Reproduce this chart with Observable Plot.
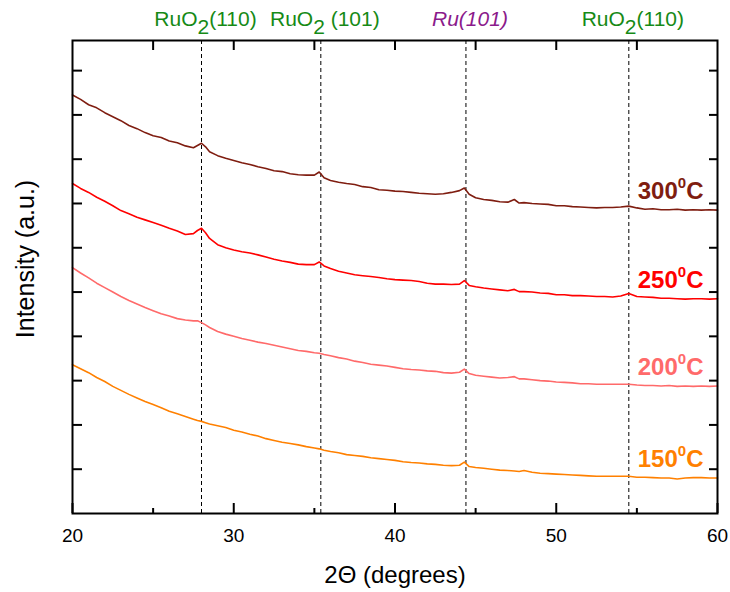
<!DOCTYPE html>
<html><head><meta charset="utf-8">
<script src="https://cdn.jsdelivr.net/npm/d3@7"></script>
<script src="https://cdn.jsdelivr.net/npm/@observablehq/plot@0.6"></script>
<style>html,body{margin:0;padding:0;background:#fff}#chart{width:730px;height:592px}</style>
</head><body><div id="chart"></div>
<script>
// 2Θ positions (degrees)
const twoTheta = [20,20.5,21,21.5,22,22.5,23,23.5,24,24.5,25,25.5,26,26.5,27,27.5,27.75,28,28.25,28.5,
  29,29.5,30,30.5,31,31.5,32,32.5,33,33.5,34,34.5,35,35.3,35.6,
  36,36.5,37,37.5,38,38.5,39,39.5,40,40.5,41,41.5,42,42.5,43,43.5,44,44.3,44.6,
  45,45.5,46,46.5,47,47.4,47.7,
  48,48.5,49,49.5,50,50.5,51,51.5,52,52.5,53,53.5,54,54.5,55,55.5,56,56.5,57,57.5,58,58.5,59,59.5,60];
// intensities (a.u., offset stacked)
const i300 = [945,935,923,916,905,896,887,876,869,860,853,849,841,837,830,826,831,836,828,817,
  808,802,797,792,788,783,779,774,772,767,765,764,764,771,758,
  752,748,745,743,738,736,731,730,728,727,725,723,722,721,722,725,729,735,721,
  713,709,707,704,703,709,701,
  702,700,699,698,695,695,693,692,691,690,691,691,692,694,690,687,688,686,686,687,685,686,685,686,685];
const i250 = [745,734,725,714,705,695,684,677,669,663,657,651,644,638,630,632,639,644,634,621,
  607,600,595,591,588,584,579,574,570,567,563,562,562,568,559,
  553,547,543,539,537,535,533,530,528,527,526,524,520,518,518,517,518,526,515,
  512,509,507,505,503,506,501,
  501,500,498,497,494,494,492,492,491,490,490,489,491,497,490,489,488,486,486,485,484,485,485,484,485];
const i200 = [555,543,532,520,510,500,490,481,473,465,458,451,446,440,437,435,435,431,426,420,
  411,405,400,395,391,387,384,380,376,372,368,366,363,362,359,
  356,352,349,344,341,337,335,333,330,327,325,324,322,321,318,317,319,326,316,
  312,310,308,306,307,309,304,
  304,302,300,299,297,296,295,293,293,292,292,292,292,292,290,289,289,288,289,287,288,287,288,287,288];
const i150 = [336,327,318,307,298,287,278,269,261,253,246,239,231,225,219,213,210,208,205,202,
  198,194,188,184,179,175,169,165,161,158,155,151,148,146,143,
  140,137,133,131,129,126,124,122,120,117,115,114,112,111,109,108,109,116,106,
  104,102,100,98,97,96,95,
  97,93,91,90,89,88,87,86,85,84,84,84,84,84,82,82,81,80,80,78,80,81,81,80,80];

const seriesValues = [i300, i250, i200, i150];
const seriesNames = ["300", "250", "200", "150"];
const seriesColors = ["#7f1d10", "#ff0000", "#ff6a6a", "#ff8000"];

const peakPositions = [28.0, 35.4, 44.4, 54.5];
const peakLabels = ["RuO2(110)", "RuO2 (101)", "Ru(101)", "RuO2(110)"];
const peakColors = ["#168a16", "#168a16", "#8b1a8b", "#168a16"];
const peakStyles = ["normal", "normal", "italic", "normal"];

const xTicksMajor = [20, 30, 40, 50, 60];
const xTicksMinor = [25, 35, 45, 55];
const xTicksTop = [25, 30, 35, 40, 45, 50, 55];
const yTicks = [100, 200, 300, 400, 500, 600, 700, 800, 900, 1000];
const yMax = 1068;

const rows = vals => twoTheta.map((x, i) => ({x, v: vals[i]}));
const last = twoTheta.length - 1;

const chart = Plot.plot({
  width: 730, height: 592,
  marginLeft: 72, marginRight: 13, marginTop: 40, marginBottom: 79,
  style: {fontFamily: "'Liberation Sans', Arial, sans-serif", fontSize: "18px", background: "#fff", color: "#000", overflow: "visible"},
  x: {domain: [20, 60]},
  y: {domain: [0, yMax]},
  marks: [
    Plot.ruleX(peakPositions, {x: d => d, stroke: "#000", strokeWidth: 1, strokeDasharray: "4,3"}),
    ...seriesValues.map((vals, k) => Plot.line(rows(vals), {x: "x", y: "v", stroke: seriesColors[k], strokeWidth: 1.6})),
    ...seriesValues.map((vals, k) => Plot.text([{x: twoTheta[last], v: vals[last], t: seriesNames[k]}], {
      x: "x", y: "v", text: "t", textAnchor: "end", lineAnchor: "bottom", dx: -14, dy: -11,
      fill: seriesColors[k], fontSize: 24, fontWeight: "bold"})),
    ...peakPositions.map((p, k) => Plot.text([p], {
      x: d => d, text: () => peakLabels[k], frameAnchor: "top", textAnchor: "middle", lineAnchor: "bottom", dy: -15, dx: 4,
      fill: peakColors[k], fontStyle: peakStyles[k], fontSize: 21})),
    Plot.frame({stroke: "#000", strokeWidth: 2}),
    Plot.axisX({anchor: "bottom", ticks: xTicksMajor, tickSize: -10, fill: "none", label: null, strokeWidth: 2}),
    Plot.axisX({anchor: "bottom", ticks: xTicksMinor, tickSize: -5, fill: "none", label: null, strokeWidth: 2}),
    Plot.axisX({anchor: "bottom", ticks: xTicksMajor, tickSize: 0, tickPadding: 15, fontSize: 19, label: null}),
    Plot.axisX({anchor: "top", ticks: xTicksTop, tickSize: -9, fill: "none", label: null, strokeWidth: 2}),
    Plot.axisY({anchor: "left", ticks: yTicks, tickSize: -10, fill: "none", label: null, strokeWidth: 2}),
    Plot.axisY({anchor: "right", ticks: yTicks, tickSize: -9, fill: "none", label: null, strokeWidth: 2}),
    Plot.text(["2Θ (degrees)"], {text: d => d, frameAnchor: "bottom", textAnchor: "middle", lineAnchor: "bottom", dy: 69, fontSize: 24}),
    Plot.text(["Intensity (a.u.)"], {text: d => d, frameAnchor: "left", textAnchor: "middle", rotate: -90, lineAnchor: "bottom", dx: -39, dy: -18, fontSize: 25})
  ]
});
document.getElementById("chart").append(chart);

const NS = "http://www.w3.org/2000/svg";
function tspan(parent, txt, attrs) {
  const t = document.createElementNS(NS, "tspan");
  t.textContent = txt;
  for (const k in attrs) t.setAttribute(k, attrs[k]);
  parent.appendChild(t);
}
chart.querySelectorAll("text").forEach(el => {
  if (el.querySelector("tspan")) return;
  const s = el.textContent;
  if (seriesNames.includes(s) && el.getAttribute("font-weight") === "bold" || (seriesNames.includes(s) && el.closest("g") && el.closest("g").getAttribute("font-weight") === "bold")) {
    el.textContent = "";
    tspan(el, s, {});
    tspan(el, "0", {dy: "-11", "font-size": "15"});
    tspan(el, "C", {dy: "11"});
  } else if (peakLabels.includes(s) && s.indexOf("O2") >= 0) {
    const j = s.indexOf("O2");
    el.textContent = "";
    tspan(el, s.slice(0, j + 1), {});
    tspan(el, "2", {dy: "8"});
    tspan(el, s.slice(j + 2), {dy: "-8"});
  }
});
</script></body></html>
